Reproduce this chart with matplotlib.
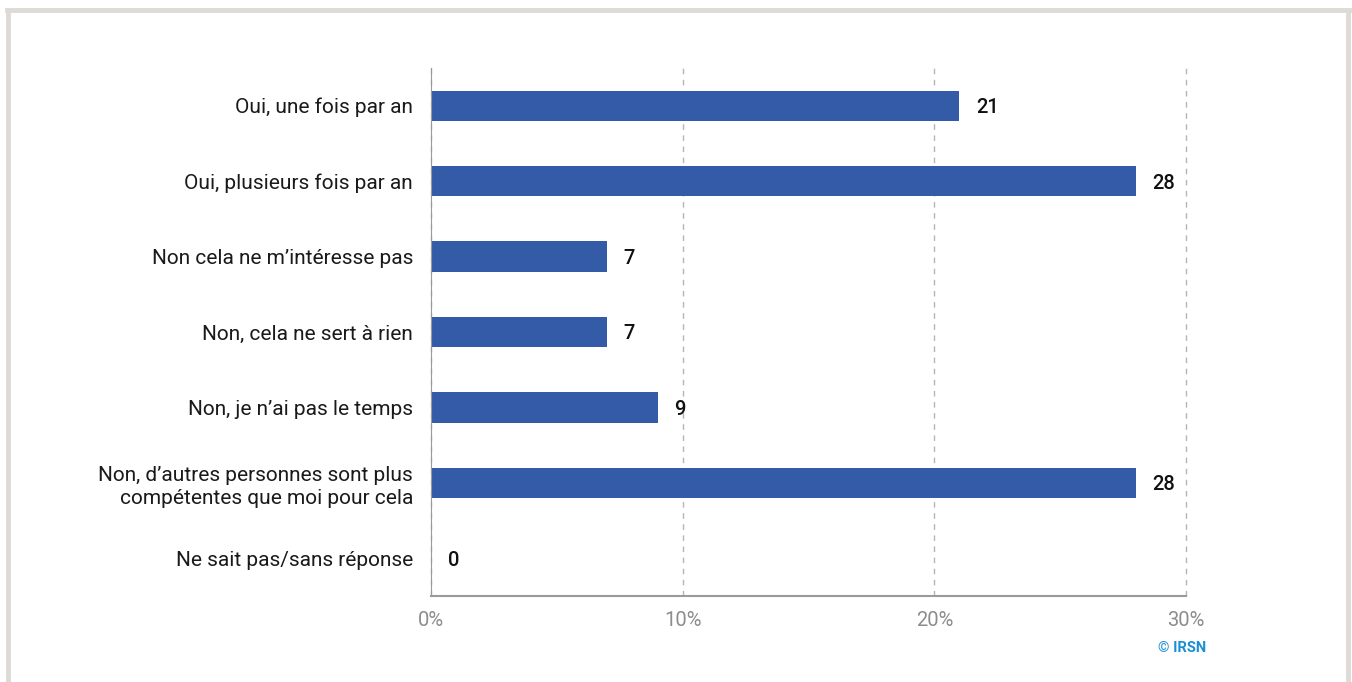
import matplotlib.pyplot as plt
from matplotlib.lines import Line2D

# Données
categories = [
    'Oui, une fois par an',
    'Oui, plusieurs fois par an',
    'Non cela ne m\u2019intéresse pas',
    'Non, cela ne sert à rien',
    'Non, je n\u2019ai pas le temps',
    'Non, d\u2019autres personnes sont plus\ncompétentes que moi pour cela',
    'Ne sait pas/sans réponse',
]
valeurs = [21, 28, 7, 7, 9, 28, 0]
ticks = [0, 10, 20, 30]
tick_labels = ['0%', '10%', '20%', '30%']

plt.rcParams['font.family'] = ['Roboto', 'DejaVu Sans']

fig = plt.figure(figsize=(13.52, 6.82), dpi=100)
ax = fig.add_axes([0.3188, 0.1261, 0.5584, 0.7742])

pos = list(range(len(categories)))
ax.barh(pos, valeurs, height=0.4, color='#335ba8')
ax.set_ylim(6.5, -0.5)
ax.set_xlim(0, 30)

for y, v in zip(pos, valeurs):
    ax.annotate(str(v), (v, y), xytext=(12, 0), textcoords='offset points',
                va='center_baseline', ha='left', fontsize=14.5, fontweight='medium',
                color='#111111')

ax.set_yticks(pos)
ax.set_yticklabels(categories, fontsize=15, color='#1a1a1a', linespacing=1.3,
                   va='center_baseline')
ax.set_xticks(ticks)
ax.set_xticklabels(tick_labels, fontsize=14.5, color='#8c8c8c')
ax.tick_params(axis='y', length=0, pad=13)
ax.tick_params(axis='x', length=0, pad=11)

ax.grid(axis='x', linestyle=(0, (4, 4)), color='#b5b5b5', linewidth=1)
for gl in ax.get_xgridlines():
    gl.set_clip_on(False)
ax.set_axisbelow(True)
for s in ['top', 'right']:
    ax.spines[s].set_visible(False)
ax.spines['left'].set_color('#9a9a9a')
ax.spines['bottom'].set_color('#9a9a9a')
ax.spines['bottom'].set_linewidth(1.5)

fig.text(0.892, 0.05, '© IRSN', color='#1a8fd6', fontsize=10.5,
         fontweight='bold', ha='right', va='center')

# cadre gris
c = '#dedad6'
fig.add_artist(Line2D([0.006, 0.006], [0, 0.985], color=c, lw=3.5, transform=fig.transFigure))
fig.add_artist(Line2D([0.997, 0.997], [0, 0.985], color=c, lw=3.5, transform=fig.transFigure))
fig.add_artist(Line2D([0.005, 0.998], [0.985, 0.985], color=c, lw=3.5, transform=fig.transFigure))

fig.savefig('out.png', dpi=100)
